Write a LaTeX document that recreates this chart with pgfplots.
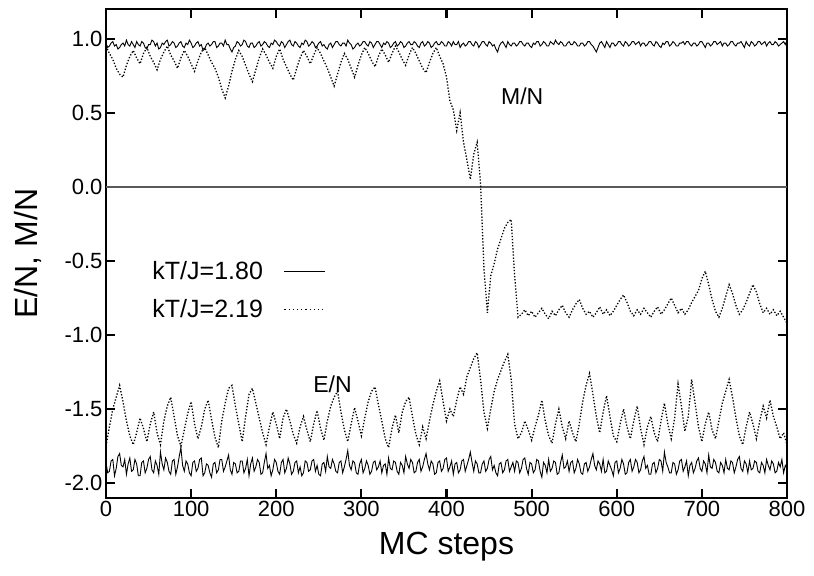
\documentclass[border=0pt]{standalone}
\usepackage{fontspec}
\setmainfont{Liberation Sans}
\usepackage{pgfplots}
\usepackage{pgfplotstable}
\pgfplotsset{compat=1.18}

% kT/J = 2.19 : M/N (m2) and E/N (e2)
\pgfplotstableread{
x m2 e2
0 0.95 -1.75
4 0.90 -1.62
8 0.86 -1.50
12 0.80 -1.42
16 0.76 -1.34
20 0.74 -1.45
24 0.82 -1.58
28 0.88 -1.68
32 0.92 -1.74
36 0.87 -1.66
40 0.83 -1.56
44 0.90 -1.63
48 0.94 -1.72
52 0.88 -1.60
56 0.84 -1.52
60 0.79 -1.66
64 0.86 -1.74
68 0.91 -1.58
72 0.95 -1.48
76 0.89 -1.42
80 0.85 -1.55
84 0.80 -1.68
88 0.87 -1.75
92 0.92 -1.64
96 0.88 -1.53
100 0.83 -1.45
104 0.78 -1.60
108 0.85 -1.70
112 0.91 -1.62
116 0.94 -1.50
120 0.89 -1.44
124 0.84 -1.57
128 0.80 -1.69
132 0.74 -1.76
136 0.66 -1.58
140 0.60 -1.46
144 0.68 -1.36
148 0.78 -1.34
152 0.86 -1.48
156 0.92 -1.60
160 0.88 -1.72
164 0.82 -1.55
168 0.76 -1.40
172 0.71 -1.36
176 0.79 -1.46
180 0.87 -1.56
184 0.93 -1.66
188 0.89 -1.74
192 0.84 -1.62
196 0.80 -1.52
200 0.88 -1.60
204 0.93 -1.70
208 0.86 -1.56
212 0.81 -1.50
216 0.76 -1.58
220 0.72 -1.67
224 0.80 -1.73
228 0.87 -1.62
232 0.92 -1.55
236 0.88 -1.64
240 0.83 -1.72
244 0.89 -1.60
248 0.94 -1.51
252 0.90 -1.63
256 0.85 -1.71
260 0.80 -1.58
264 0.74 -1.48
268 0.68 -1.42
272 0.76 -1.38
276 0.84 -1.52
280 0.90 -1.64
284 0.86 -1.72
288 0.80 -1.60
292 0.74 -1.49
296 0.82 -1.58
300 0.89 -1.68
304 0.94 -1.56
308 0.90 -1.45
312 0.85 -1.38
316 0.81 -1.35
320 0.88 -1.47
324 0.93 -1.58
328 0.89 -1.70
332 0.84 -1.76
336 0.90 -1.63
340 0.95 -1.54
344 0.91 -1.66
348 0.86 -1.52
352 0.82 -1.45
356 0.89 -1.42
360 0.94 -1.55
364 0.90 -1.67
368 0.85 -1.74
372 0.80 -1.62
376 0.77 -1.70
380 0.84 -1.58
384 0.90 -1.47
388 0.94 -1.38
392 0.88 -1.31
396 0.83 -1.45
400 0.74 -1.58
404 0.58 -1.50
408 0.52 -1.55
412 0.38 -1.44
416 0.50 -1.35
420 0.30 -1.40
424 0.18 -1.28
428 0.05 -1.22
432 0.22 -1.16
436 0.30 -1.12
440 0.02 -1.30
444 -0.55 -1.52
448 -0.85 -1.63
452 -0.60 -1.50
456 -0.52 -1.38
460 -0.42 -1.30
464 -0.35 -1.24
468 -0.28 -1.18
472 -0.24 -1.13
476 -0.22 -1.30
480 -0.60 -1.60
484 -0.88 -1.70
488 -0.86 -1.66
492 -0.83 -1.58
496 -0.87 -1.64
500 -0.84 -1.71
504 -0.88 -1.62
508 -0.85 -1.54
512 -0.82 -1.44
516 -0.86 -1.58
520 -0.89 -1.68
524 -0.84 -1.73
528 -0.87 -1.60
532 -0.83 -1.50
536 -0.80 -1.62
540 -0.85 -1.70
544 -0.88 -1.58
548 -0.83 -1.66
552 -0.79 -1.72
556 -0.76 -1.60
560 -0.82 -1.45
564 -0.86 -1.34
568 -0.84 -1.26
572 -0.88 -1.40
576 -0.85 -1.55
580 -0.81 -1.66
584 -0.86 -1.52
588 -0.83 -1.41
592 -0.87 -1.55
596 -0.84 -1.68
600 -0.80 -1.72
604 -0.76 -1.60
608 -0.73 -1.50
612 -0.78 -1.62
616 -0.84 -1.70
620 -0.87 -1.58
624 -0.83 -1.48
628 -0.86 -1.63
632 -0.82 -1.74
636 -0.85 -1.62
640 -0.88 -1.55
644 -0.84 -1.66
648 -0.81 -1.72
652 -0.86 -1.58
656 -0.83 -1.46
660 -0.79 -1.60
664 -0.75 -1.70
668 -0.80 -1.56
672 -0.85 -1.33
676 -0.82 -1.48
680 -0.86 -1.65
684 -0.83 -1.55
688 -0.78 -1.30
692 -0.74 -1.46
696 -0.70 -1.62
700 -0.62 -1.72
704 -0.57 -1.60
708 -0.66 -1.52
712 -0.76 -1.64
716 -0.84 -1.70
720 -0.88 -1.58
724 -0.82 -1.46
728 -0.74 -1.38
732 -0.66 -1.30
736 -0.72 -1.42
740 -0.80 -1.56
744 -0.86 -1.68
748 -0.83 -1.74
752 -0.78 -1.62
756 -0.72 -1.52
760 -0.66 -1.60
764 -0.71 -1.70
768 -0.79 -1.58
772 -0.85 -1.48
776 -0.82 -1.56
780 -0.86 -1.44
784 -0.83 -1.55
788 -0.87 -1.62
792 -0.84 -1.70
796 -0.88 -1.66
800 -0.92 -1.74
}\hightable

% kT/J = 1.80 : M/N (m1) and E/N (e1)
\pgfplotstableread{
x m1 e1
0 0.97 -1.86
2 0.94 -1.93
4 0.95 -1.92
6 0.97 -1.85
8 0.98 -1.84
10 0.95 -1.95
12 0.96 -1.90
14 0.93 -1.82
16 0.94 -1.80
18 0.96 -1.88
20 0.97 -1.89
22 0.95 -1.84
24 0.99 -1.94
26 0.96 -1.87
28 0.95 -1.83
30 0.98 -1.92
32 0.96 -1.91
34 0.94 -1.84
36 0.98 -1.87
38 0.96 -1.95
40 0.95 -1.95
42 0.98 -1.86
44 0.97 -1.85
46 0.94 -1.93
48 0.93 -1.90
50 0.96 -1.84
52 0.96 -1.82
54 0.99 -1.91
56 0.98 -1.93
58 0.95 -1.85
60 0.97 -1.88
62 0.93 -1.94
64 0.94 -1.79
66 0.97 -1.87
68 0.96 -1.91
70 0.98 -1.83
72 0.99 -1.86
74 0.95 -1.92
76 0.96 -1.94
78 0.98 -1.85
80 0.97 -1.84
82 0.94 -1.94
84 0.95 -1.89
86 0.97 -1.82
88 0.98 -1.76
90 0.95 -1.88
92 0.94 -1.92
94 0.97 -1.85
96 0.96 -1.87
98 0.99 -1.93
100 0.97 -1.95
102 0.94 -1.86
104 0.95 -1.85
106 0.97 -1.92
108 0.98 -1.90
110 0.95 -1.84
112 0.96 -1.83
114 0.92 -1.95
116 0.93 -1.93
118 0.96 -1.87
120 0.97 -1.88
122 0.95 -1.93
124 0.96 -1.96
126 0.98 -1.87
128 0.98 -1.86
130 0.94 -1.93
132 0.95 -1.91
134 0.97 -1.84
136 0.97 -1.84
138 0.95 -1.92
140 0.99 -1.89
142 0.96 -1.85
144 0.96 -1.81
146 0.93 -1.91
148 0.91 -1.94
150 0.94 -1.86
152 0.95 -1.87
154 0.98 -1.93
156 0.97 -1.92
158 0.95 -1.85
160 0.96 -1.85
162 0.99 -1.93
164 0.98 -1.90
166 0.95 -1.84
168 0.94 -1.95
170 0.97 -1.87
172 0.97 -1.83
174 0.94 -1.92
176 0.95 -1.89
178 0.97 -1.84
180 0.98 -1.86
182 0.95 -1.94
184 0.96 -1.93
186 0.98 -1.86
188 0.97 -1.80
190 0.95 -1.90
192 0.94 -1.88
194 0.97 -1.95
196 0.96 -1.91
198 0.99 -1.84
200 0.98 -1.86
202 0.96 -1.92
204 0.95 -1.94
206 0.98 -1.86
208 0.97 -1.84
210 0.94 -1.93
212 0.96 -1.90
214 0.98 -1.83
216 0.99 -1.87
218 0.96 -1.94
220 0.95 -1.92
222 0.98 -1.86
224 0.97 -1.85
226 0.95 -1.93
228 0.94 -1.89
230 0.97 -1.95
232 0.96 -1.93
234 0.99 -1.85
236 0.98 -1.86
238 0.95 -1.92
240 0.96 -1.91
242 0.98 -1.85
244 0.97 -1.84
246 0.94 -1.92
248 0.95 -1.88
250 0.97 -1.94
252 0.98 -1.95
254 0.95 -1.87
256 0.96 -1.86
258 0.94 -1.92
260 0.93 -1.82
262 0.96 -1.89
264 0.97 -1.90
266 0.94 -1.84
268 0.96 -1.87
270 0.98 -1.92
272 0.98 -1.93
274 0.96 -1.86
276 0.95 -1.85
278 0.97 -1.93
280 0.97 -1.89
282 0.95 -1.84
284 0.99 -1.78
286 0.97 -1.88
288 0.96 -1.91
290 0.93 -1.85
292 0.94 -1.86
294 0.96 -1.93
296 0.97 -1.94
298 0.95 -1.87
300 0.96 -1.84
302 0.98 -1.93
304 0.98 -1.90
306 0.96 -1.85
308 0.95 -1.88
310 0.98 -1.94
312 0.97 -1.92
314 0.94 -1.86
316 0.96 -1.85
318 0.98 -1.91
320 0.98 -1.89
322 0.96 -1.85
324 0.94 -1.93
326 0.97 -1.88
328 0.96 -1.87
330 0.98 -1.94
332 0.97 -1.83
334 0.94 -1.90
336 0.95 -1.91
338 0.97 -1.85
340 0.98 -1.86
342 0.95 -1.92
344 0.96 -1.94
346 0.98 -1.86
348 0.97 -1.88
350 0.94 -1.93
352 0.95 -1.82
354 0.97 -1.87
356 0.98 -1.90
358 0.96 -1.84
360 0.96 -1.86
362 0.98 -1.93
364 0.97 -1.92
366 0.95 -1.86
368 0.94 -1.84
370 0.97 -1.92
372 0.98 -1.89
374 0.95 -1.84
376 0.96 -1.80
378 0.98 -1.87
380 0.97 -1.91
382 0.94 -1.85
384 0.95 -1.87
386 0.97 -1.94
388 0.98 -1.93
390 0.96 -1.86
392 0.96 -1.85
394 0.98 -1.92
396 0.97 -1.90
398 0.95 -1.84
400 0.95 -1.83
402 0.98 -1.92
404 0.97 -1.89
406 0.95 -1.85
408 0.98 -1.94
410 0.96 -1.87
412 0.96 -1.86
414 0.98 -1.93
416 0.94 -1.91
418 0.96 -1.85
420 0.97 -1.84
422 0.95 -1.92
424 0.96 -1.88
426 0.98 -1.84
428 0.98 -1.79
430 0.96 -1.86
432 0.95 -1.92
434 0.98 -1.85
436 0.97 -1.87
438 0.94 -1.93
440 0.96 -1.93
442 0.98 -1.87
444 0.98 -1.85
446 0.96 -1.92
448 0.95 -1.90
450 0.98 -1.84
452 0.97 -1.82
454 0.95 -1.91
456 0.96 -1.88
458 0.93 -1.93
460 0.91 -1.95
462 0.95 -1.87
464 0.97 -1.86
466 0.98 -1.93
468 0.96 -1.91
470 0.94 -1.85
472 0.98 -1.84
474 0.96 -1.92
476 0.95 -1.89
478 0.97 -1.86
480 0.97 -1.92
482 0.95 -1.85
484 0.96 -1.86
486 0.98 -1.93
488 0.98 -1.90
490 0.96 -1.84
492 0.95 -1.83
494 0.97 -1.90
496 0.97 -1.94
498 0.95 -1.86
500 0.94 -1.87
502 0.97 -1.93
504 0.96 -1.91
506 0.98 -1.84
508 0.98 -1.85
510 0.95 -1.92
512 0.96 -1.96
514 0.98 -1.86
516 0.97 -1.88
518 0.95 -1.93
520 0.95 -1.84
522 0.98 -1.92
524 0.97 -1.90
526 0.96 -1.85
528 0.99 -1.86
530 0.97 -1.94
532 0.96 -1.93
534 0.98 -1.86
536 0.97 -1.81
538 0.95 -1.90
540 0.95 -1.89
542 0.97 -1.85
544 0.98 -1.92
546 0.96 -1.86
548 0.96 -1.85
550 0.98 -1.93
552 0.97 -1.90
554 0.95 -1.84
556 0.95 -1.87
558 0.97 -1.93
560 0.97 -1.94
562 0.95 -1.87
564 0.96 -1.86
566 0.98 -1.92
568 0.98 -1.89
570 0.96 -1.84
572 0.95 -1.80
574 0.93 -1.88
576 0.91 -1.91
578 0.94 -1.85
580 0.97 -1.87
582 0.98 -1.92
584 0.96 -1.84
586 0.94 -1.93
588 0.98 -1.92
590 0.96 -1.85
592 0.94 -1.88
594 0.97 -1.91
596 0.97 -1.95
598 0.95 -1.86
600 0.96 -1.85
602 0.98 -1.93
604 0.98 -1.90
606 0.96 -1.84
608 0.95 -1.87
610 0.98 -1.94
612 0.97 -1.93
614 0.95 -1.86
616 0.96 -1.84
618 0.98 -1.92
620 0.98 -1.89
622 0.96 -1.84
624 0.97 -1.86
626 0.98 -1.93
628 0.95 -1.91
630 0.97 -1.85
632 0.97 -1.82
634 0.95 -1.90
636 0.96 -1.88
638 0.98 -1.94
640 0.98 -1.94
642 0.96 -1.87
644 0.95 -1.86
646 0.98 -1.93
648 0.97 -1.90
650 0.95 -1.84
652 0.94 -1.85
654 0.97 -1.92
656 0.96 -1.79
658 0.98 -1.86
660 0.98 -1.89
662 0.95 -1.93
664 0.96 -1.93
666 0.98 -1.86
668 0.97 -1.87
670 0.95 -1.94
672 0.95 -1.91
674 0.97 -1.85
676 0.97 -1.84
678 0.98 -1.92
680 0.96 -1.89
682 0.98 -1.85
684 0.98 -1.95
686 0.96 -1.88
688 0.95 -1.86
690 0.97 -1.93
692 0.97 -1.90
694 0.95 -1.85
696 0.96 -1.83
698 0.98 -1.90
700 0.98 -1.92
702 0.96 -1.85
704 0.94 -1.87
706 0.97 -1.93
708 0.97 -1.81
710 0.95 -1.89
712 0.96 -1.90
714 0.98 -1.84
716 0.98 -1.86
718 0.96 -1.92
720 0.97 -1.93
722 0.98 -1.86
724 0.95 -1.88
726 0.97 -1.93
728 0.97 -1.84
730 0.95 -1.90
732 0.96 -1.91
734 0.98 -1.85
736 0.98 -1.86
738 0.96 -1.93
740 0.95 -1.89
742 0.97 -1.84
744 0.97 -1.82
746 0.98 -1.90
748 0.96 -1.92
750 0.94 -1.85
752 0.98 -1.87
754 0.96 -1.93
756 0.95 -1.85
758 0.98 -1.91
760 0.97 -1.90
762 0.95 -1.85
764 0.96 -1.86
766 0.98 -1.92
768 0.98 -1.93
770 0.96 -1.86
772 0.97 -1.88
774 0.98 -1.93
776 0.95 -1.84
778 0.97 -1.88
780 0.98 -1.91
782 0.96 -1.85
784 0.96 -1.87
786 0.98 -1.93
788 0.97 -1.92
790 0.95 -1.86
792 0.96 -1.89
794 0.97 -1.84
796 0.98 -1.93
798 0.96 -1.88
800 0.99 -1.90
}\lowtable

\begin{document}
\begin{tikzpicture}
\begin{axis}[
  scale only axis,
  width=681pt, height=489pt,
  xmin=0, xmax=800, ymin=-2.1, ymax=1.2,
  axis line style={line width=2.4pt},
  tick style={line width=2.2pt, black},
  major tick length=9pt,
  tick align=inside,
  xtick pos=both, ytick pos=both,
  xticklabel pos=bottom, yticklabel pos=left,
  xtick={0,100,...,800},
  xticklabels={0,100,200,300,400,500,600,700,800},
  ytick={-2,-1.5,-1,-0.5,0,0.5,1},
  yticklabels={-2.0,-1.5,-1.0,-0.5,0.0,0.5,1.0},
  ticklabel style={font=\fontsize{22}{24}\selectfont},
  xlabel={MC steps},
  ylabel={E/N, M/N},
  label style={font=\fontsize{32}{34}\selectfont},
  x label style={at={(axis description cs:0.5,-0.1)}, anchor=center},
  y label style={at={(axis description cs:-0.115,0.5)}, anchor=center},
  legend plot pos=right,
  legend cell align=left,
  legend image code/.code={\path (0pt,0pt); \draw[#1] (19pt,0pt) -- (60pt,0pt);},
  legend style={at={(axis cs:52,-0.49)}, anchor=north west, draw=none, fill=none,
    font=\fontsize{25}{27}\selectfont, row sep=14pt, inner sep=0pt},
]
\addplot[gray!70!black, line width=1.6pt, forget plot] coordinates {(0,0) (800,0)};
\addplot[black, line width=0.9pt, forget plot] table[x=x, y=m1] {\lowtable};
\addplot[black, line width=0.9pt, forget plot] table[x=x, y=e1] {\lowtable};
\addplot[black, line width=1.3pt, dash pattern=on 1.3pt off 1.8pt, forget plot] table[x=x, y=m2] {\hightable};
\addplot[black, line width=1.3pt, dash pattern=on 1.3pt off 1.8pt, forget plot] table[x=x, y=e2] {\hightable};
\addlegendimage{black, line width=0.9pt}
\addlegendentry{kT/J=1.80}
\addlegendimage{black, line width=1.1pt, dash pattern=on 1.2pt off 3pt}
\addlegendentry{kT/J=2.19}
\node[font=\fontsize{23}{25}\selectfont] at (axis cs:489,0.61) {M/N};
\node[font=\fontsize{23}{25}\selectfont] at (axis cs:266,-1.33) {E/N};
\end{axis}
\useasboundingbox ([shift={(-106pt,-77pt)}]current axis.south west) rectangle ([shift={(27pt,9pt)}]current axis.north east);
\end{tikzpicture}
\end{document}
